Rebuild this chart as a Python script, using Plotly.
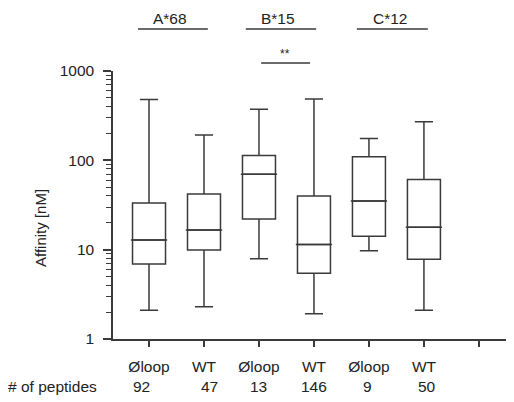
import plotly.graph_objects as go

# ---- data ----
categories = ["Øloop", "WT", "Øloop", "WT", "Øloop", "WT", ""]
groups = ["A*68", "B*15", "C*12"]
peptide_counts = ["92", "47", "13", "146", "9", "50"]
lower_whisker = [2.1, 2.3, 7.9, 1.92, 9.75, 2.1]
q1 = [6.9, 9.9, 22.0, 5.45, 14.1, 7.8]
median = [12.8, 16.6, 70.0, 11.4, 35.0, 17.8]
q3 = [33.3, 42.0, 113.0, 40.0, 110.0, 61.0]
upper_whisker = [480.0, 192.0, 373.0, 486.0, 176.0, 271.0]
significance = "**"
y_major = [1, 10, 100, 1000]
y_minor = [m * 10 ** d for d in range(3) for m in range(2, 10)]

FONT = "Liberation Sans, Arial, sans-serif"
LINE = "#3a3a3a"
TXT = "#222222"
FS = 15.5

PLOT_W, PLOT_H = 400, 268


def px_y(py):
    """reference pixel row -> paper y (plot top at 71, bottom at 339)"""
    return (339 - py) / PLOT_H


def px_x(px):
    return (px - 113) / PLOT_W


positions = list(range(len(q1)))

fig = go.Figure()
fig.add_trace(go.Box(
    x=positions,
    q1=q1, median=median, q3=q3,
    lowerfence=lower_whisker, upperfence=upper_whisker,
    width=0.6, whiskerwidth=0.55,
    fillcolor="white",
    line=dict(color=LINE, width=1.5),
    boxpoints=False,
    showlegend=False,
    hoverinfo="skip",
))

# median lines extending slightly beyond boxes
for i, m in enumerate(median):
    fig.add_shape(type="line", xref="x", yref="y",
                  x0=i - 0.33, x1=i + 0.33, y0=m, y1=m,
                  line=dict(color=LINE, width=1.5), layer="above")

# group labels with lines above the plot
group_spans = [(-0.2, 1.07), (1.76, 3.04), (3.78, 5.07)]
for g, (a, b) in zip(groups, group_spans):
    fig.add_shape(type="line", xref="x", yref="paper", x0=a, x1=b,
                  y0=px_y(29), y1=px_y(29), line=dict(color=LINE, width=1.5))
    fig.add_annotation(x=(a + b) / 2 - 0.05, y=px_y(18), xref="x", yref="paper",
                       text=g, showarrow=False, xanchor="center", yanchor="middle",
                       font=dict(family=FONT, size=FS, color=TXT))

# significance bar
fig.add_shape(type="line", xref="x", yref="paper", x0=2.04, x1=2.93,
              y0=px_y(63), y1=px_y(63), line=dict(color=LINE, width=1.5))
fig.add_annotation(x=2.48, y=px_y(54), xref="x", yref="paper", text=significance,
                   showarrow=False, xanchor="center", yanchor="middle",
                   font=dict(family=FONT, size=12, color=TXT))

# peptide counts row
fig.add_annotation(x=px_x(6), y=px_y(386), xref="paper", yref="paper",
                   text="# of peptides", showarrow=False,
                   xanchor="left", yanchor="middle",
                   font=dict(family=FONT, size=FS, color=TXT))
count_shift = [-8, 5, 0, 0, -1, 3]
for i, c in enumerate(peptide_counts):
    fig.add_annotation(x=i, y=px_y(386), xref="x", yref="paper",
                       text=c, showarrow=False, xshift=count_shift[i],
                       xanchor="center", yanchor="middle",
                       font=dict(family=FONT, size=FS, color=TXT))

# y-axis title
fig.add_annotation(x=px_x(40), y=px_y(228), xref="paper", yref="paper",
                   text="Affinity [nM]", textangle=-90, showarrow=False,
                   xanchor="center", yanchor="middle",
                   font=dict(family=FONT, size=15, color=TXT))

# page body has an 8px margin: shift figure up/left by 8px
fig.update_layout(
    width=506, height=394,
    margin=dict(l=105, r=1, t=63, b=63, autoexpand=False),
    plot_bgcolor="white", paper_bgcolor="white",
    font=dict(family=FONT, size=FS, color=TXT),
    xaxis=dict(
        range=[-0.655, 6.62],
        tickmode="array", tickvals=list(range(len(categories))),
        ticktext=categories,
        ticks="outside", ticklen=6, tickwidth=1.5, tickcolor=LINE,
        showline=True, linecolor=LINE, linewidth=1.5,
        showgrid=False, zeroline=False,
        ticklabelstandoff=7,
    ),
    yaxis=dict(
        type="log", range=[0, 3],
        tickmode="array", tickvals=y_major,
        ticktext=[str(v) for v in y_major],
        ticks="outside", ticklen=8, tickwidth=1.5, tickcolor=LINE,
        minor=dict(tickmode="array", tickvals=y_minor, ticks="outside",
                   ticklen=5, tickwidth=1.2, tickcolor=LINE, showgrid=False),
        showline=True, linecolor=LINE, linewidth=1.5,
        showgrid=False, zeroline=False,
        ticklabelstandoff=6,
    ),
)

fig.write_html("out.html")
